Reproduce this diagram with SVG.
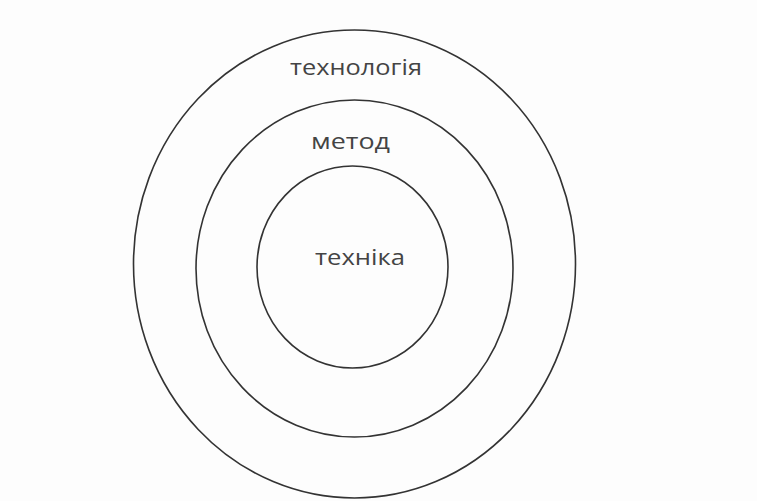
<svg xmlns="http://www.w3.org/2000/svg" width="757" height="501" viewBox="0 0 757 501">
<style>
.ring{fill:none;stroke:#333;stroke-width:1.6}
.lbl{font-family:"Open Sans","Noto Sans","DejaVu Sans",sans-serif;font-size:22px;fill:#444}
</style>
<rect width="757" height="501" fill="#fdfdfd"/>
<g id="tekhnolohiia">
<ellipse class="ring" cx="354.5" cy="264" rx="221" ry="234"/>
<text class="lbl" x="290" y="75" textLength="132" lengthAdjust="spacingAndGlyphs">технологія</text>
</g>
<g id="metod">
<ellipse class="ring" cx="354.5" cy="268.5" rx="158.5" ry="168.5"/>
<text class="lbl" x="311" y="149" textLength="79" lengthAdjust="spacingAndGlyphs">метод</text>
</g>
<g id="tekhnika">
<ellipse class="ring" cx="352.5" cy="267" rx="95.5" ry="101"/>
<text class="lbl" x="315" y="265" textLength="90" lengthAdjust="spacingAndGlyphs">техніка</text>
</g>
<g id="connectors"/>
</svg>
